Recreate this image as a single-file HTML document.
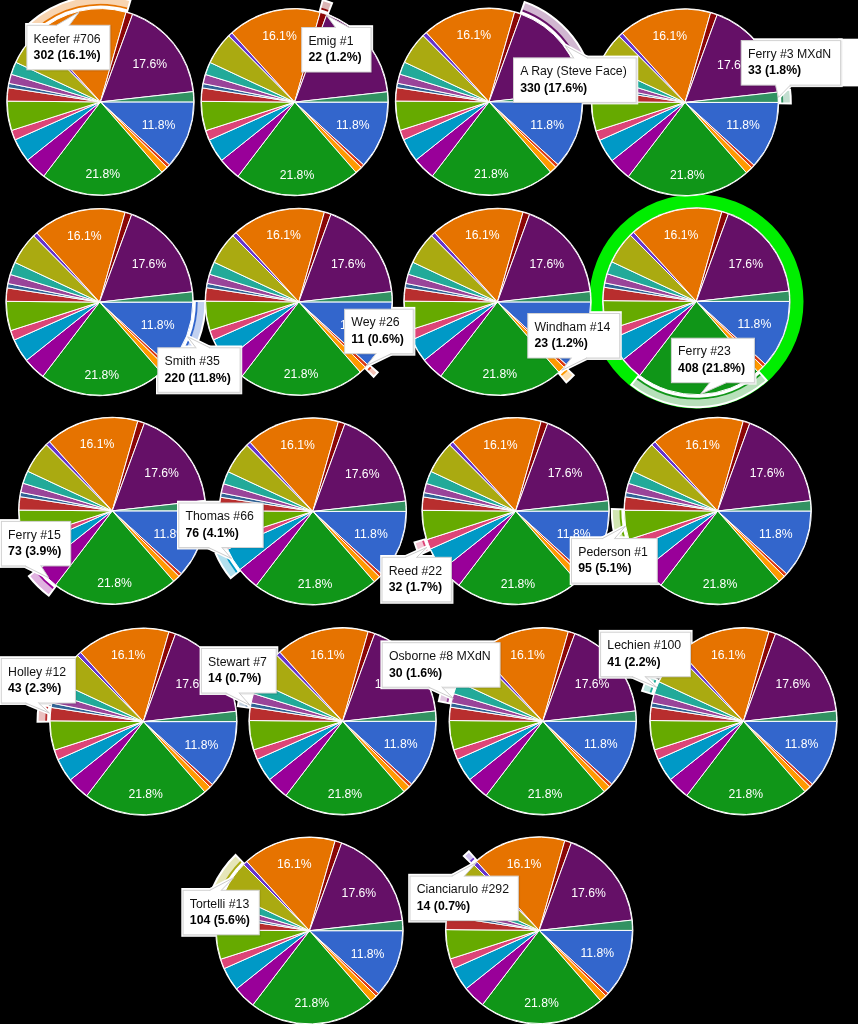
<!DOCTYPE html><html><head><meta charset="utf-8"><title>Pie charts</title><style>html,body{margin:0;padding:0;background:#000}svg{display:block;will-change:transform}text{font-family:"Liberation Sans",sans-serif}</style></head><body>
<svg width="858" height="1024" viewBox="0 0 858 1024"><rect width="858" height="1024" fill="#000"/><defs><g id="pie"><circle r="94.2" fill="#fff"/><g stroke="#fff" stroke-width="1" stroke-linejoin="round"><path d="M0,0L93.25,0A93.25,93.25,0,0,1,68.94,62.79Z" fill="#3366cc"/><path d="M0,0L68.94,62.79A93.25,93.25,0,0,1,66.57,65.3Z" fill="#dc3912"/><path d="M0,0L66.57,65.3A93.25,93.25,0,0,1,61.33,70.24Z" fill="#ff9900"/><path d="M0,0L61.33,70.24A93.25,93.25,0,0,1,-56.61,74.1Z" fill="#109618"/><path d="M0,0L-56.61,74.1A93.25,93.25,0,0,1,-72.9,58.15Z" fill="#990099"/><path d="M0,0L-72.9,58.15A93.25,93.25,0,0,1,-85.22,37.86Z" fill="#0099c6"/><path d="M0,0L-85.22,37.86A93.25,93.25,0,0,1,-88.79,28.5Z" fill="#dd4477"/><path d="M0,0L-88.79,28.5A93.25,93.25,0,0,1,-93.25,-0.78Z" fill="#66aa00"/><path d="M0,0L-93.25,-0.78A93.25,93.25,0,0,1,-92.16,-14.19Z" fill="#b82e2e"/><path d="M0,0L-92.16,-14.19A93.25,93.25,0,0,1,-91.39,-18.51Z" fill="#316395"/><path d="M0,0L-91.39,-18.51A93.25,93.25,0,0,1,-89.07,-27.61Z" fill="#994499"/><path d="M0,0L-89.07,-27.61A93.25,93.25,0,0,1,-84.44,-39.57Z" fill="#22aa99"/><path d="M0,0L-84.44,-39.57A93.25,93.25,0,0,1,-65.8,-66.08Z" fill="#aaaa11"/><path d="M0,0L-65.8,-66.08A93.25,93.25,0,0,1,-62.62,-69.1Z" fill="#6633cc"/><path d="M0,0L-62.62,-69.1A93.25,93.25,0,0,1,25.58,-89.67Z" fill="#e67300"/><path d="M0,0L25.58,-89.67A93.25,93.25,0,0,1,32.13,-87.54Z" fill="#8b0707"/><path d="M0,0L32.13,-87.54A93.25,93.25,0,0,1,92.68,-10.31Z" fill="#651067"/><path d="M0,0L92.68,-10.31A93.25,93.25,0,0,1,93.25,-0Z" fill="#329262"/></g><g fill="#fff" font-size="12.2"><text x="49.4" y="-33.7" text-anchor="middle">17.6%</text><text x="58.1" y="27.0" text-anchor="middle">11.8%</text><text x="2.3" y="76.60000000000001" text-anchor="middle">21.8%</text><text x="-15.2" y="-62.50000000000001" text-anchor="middle">16.1%</text></g></g></defs>
<circle cx="696.3" cy="301.4" r="100.6" fill="none" stroke="#00ee00" stroke-width="13.2"/>
<path d="M27.22,24.09A106.85,106.85,0,0,1,131.68,-0.28L127.42,13.68A92.25,92.25,0,0,0,37.23,34.72Z" fill="#fff"/><path d="M30.04,24.21A104.85,104.85,0,0,1,129.21,1.07L127.35,7.61A98.05,98.05,0,0,0,34.61,29.25Z" fill="#f8d5b2"/><path d="M35.14,29.84A97.25,97.25,0,0,1,127.13,8.38" fill="none" stroke="#e67300" stroke-width="1.9"/>
<path d="M322.03,-1.18A106.85,106.85,0,0,1,333.34,2.5L328.06,16.11A92.25,92.25,0,0,0,318.29,12.93Z" fill="#fff"/><path d="M323.41,1.27A104.85,104.85,0,0,1,330.78,3.67L328.43,10.05A98.05,98.05,0,0,0,321.55,7.81Z" fill="#dcb5b5"/><path d="M321.33,8.58A97.25,97.25,0,0,1,328.16,10.81" fill="none" stroke="#8b0707" stroke-width="1.9"/>
<path d="M523.98,0.82A106.85,106.85,0,0,1,595.45,91.98L580.91,93.32A92.25,92.25,0,0,0,519.21,14.62Z" fill="#fff"/><path d="M525.18,3.37A104.85,104.85,0,0,1,593.26,90.2L586.5,90.96A98.05,98.05,0,0,0,522.83,9.75Z" fill="#d1b7d1"/><path d="M522.56,10.51A97.25,97.25,0,0,1,585.7,91.04" fill="none" stroke="#651067" stroke-width="1.9"/>
<path d="M790.95,88.59A106.85,106.85,0,0,1,791.83,104.4L777.23,104.13A92.25,92.25,0,0,0,776.48,90.48Z" fill="#fff"/><path d="M789.21,90.8A104.85,104.85,0,0,1,789.85,102.4L783.05,102.4A98.05,98.05,0,0,0,782.45,91.56Z" fill="#c2ded0"/><path d="M781.65,91.64A97.25,97.25,0,0,1,782.25,102.4" fill="none" stroke="#329262" stroke-width="1.9"/>
<path d="M206.38,300.1A106.85,106.85,0,0,1,177.18,375.52L166.57,365.49A92.25,92.25,0,0,0,191.78,300.37Z" fill="#fff"/><path d="M204.4,302.1A104.85,104.85,0,0,1,177.06,372.71L172.04,368.13A98.05,98.05,0,0,0,197.6,302.1Z" fill="#c2d1f0"/><path d="M196.8,302.1A97.25,97.25,0,0,1,171.44,367.59" fill="none" stroke="#3366cc" stroke-width="1.9"/>
<path d="M379.13,372.36A106.85,106.85,0,0,1,373.66,378.14L363.43,367.72A92.25,92.25,0,0,0,368.15,362.73Z" fill="#fff"/><path d="M376.31,372.51A104.85,104.85,0,0,1,373.65,375.32L368.8,370.56A98.05,98.05,0,0,0,371.29,367.93Z" fill="#f4c4b8"/><path d="M370.69,367.39A97.25,97.25,0,0,1,368.23,370" fill="none" stroke="#dc3912" stroke-width="1.9"/>
<path d="M575.12,375.28A106.85,106.85,0,0,1,566.21,383.69L556.81,372.51A92.25,92.25,0,0,0,564.51,365.25Z" fill="#fff"/><path d="M572.3,375.32A104.85,104.85,0,0,1,566.41,380.88L561.94,375.76A98.05,98.05,0,0,0,567.45,370.56Z" fill="#ffe0b2"/><path d="M566.88,370A97.25,97.25,0,0,1,561.42,375.15" fill="none" stroke="#ff9900" stroke-width="1.9"/>
<path d="M768.08,380.55A106.85,106.85,0,0,1,629.86,385.08L638.93,373.64A92.25,92.25,0,0,0,758.27,369.74Z" fill="#fff"/><path d="M765.26,380.38A104.85,104.85,0,0,1,632.65,384.72L636.78,379.32A98.05,98.05,0,0,0,760.79,375.26Z" fill="#b7e0ba"/><path d="M760.27,374.65A97.25,97.25,0,0,1,637.27,378.68" fill="none" stroke="#109618" stroke-width="1.9"/>
<path d="M48.99,596.96A106.85,106.85,0,0,1,27.48,575.9L39.07,567.01A92.25,92.25,0,0,0,57.64,585.2Z" fill="#fff"/><path d="M48.6,594.17A104.85,104.85,0,0,1,30.28,576.23L35.6,571.99A98.05,98.05,0,0,0,52.73,588.77Z" fill="#e0b2e0"/><path d="M53.22,588.13A97.25,97.25,0,0,1,36.22,571.49" fill="none" stroke="#990099" stroke-width="1.9"/>
<path d="M230.53,579.59A106.85,106.85,0,0,1,214.36,552.94L227.81,547.27A92.25,92.25,0,0,0,241.78,570.27Z" fill="#fff"/><path d="M230.83,576.78A104.85,104.85,0,0,1,216.98,553.97L223.2,551.21A98.05,98.05,0,0,0,236.15,572.54Z" fill="#b2e0ee"/><path d="M236.77,572.04A97.25,97.25,0,0,1,223.93,550.89" fill="none" stroke="#0099c6" stroke-width="1.9"/>
<path d="M418.78,556.31A106.85,106.85,0,0,1,413.27,541.85L427.25,537.64A92.25,92.25,0,0,0,432.01,550.13Z" fill="#fff"/><path d="M419.78,553.67A104.85,104.85,0,0,1,415.77,543.15L422.24,541.07A98.05,98.05,0,0,0,426,550.91Z" fill="#f5c7d6"/><path d="M426.73,550.59A97.25,97.25,0,0,1,423,540.83" fill="none" stroke="#dd4477" stroke-width="1.9"/>
<path d="M616.54,545.56A106.85,106.85,0,0,1,610.84,508.1L625.43,508.49A92.25,92.25,0,0,0,630.36,540.84Z" fill="#fff"/><path d="M617.82,543.05A104.85,104.85,0,0,1,612.8,510.12L619.6,510.18A98.05,98.05,0,0,0,624.29,540.97Z" fill="#d1e6b2"/><path d="M625.05,540.73A97.25,97.25,0,0,1,620.4,510.18" fill="none" stroke="#66aa00" stroke-width="1.9"/>
<path d="M36.51,722.71A106.85,106.85,0,0,1,38.07,703.36L52.45,705.85A92.25,92.25,0,0,0,51.1,722.56Z" fill="#fff"/><path d="M38.5,720.72A104.85,104.85,0,0,1,39.72,705.64L46.44,706.68A98.05,98.05,0,0,0,45.3,720.78Z" fill="#eac0c0"/><path d="M46.1,720.78A97.25,97.25,0,0,1,47.23,706.8" fill="none" stroke="#b82e2e" stroke-width="1.9"/>
<path d="M236.71,707.02A106.85,106.85,0,0,1,238.29,698.13L252.54,701.3A92.25,92.25,0,0,0,251.18,708.97Z" fill="#fff"/><path d="M238.97,705.34A104.85,104.85,0,0,1,239.84,700.49L246.5,701.84A98.05,98.05,0,0,0,245.69,706.38Z" fill="#c1d0df"/><path d="M246.48,706.5A97.25,97.25,0,0,1,247.28,702" fill="none" stroke="#316395" stroke-width="1.9"/>
<path d="M437.65,702.06A106.85,106.85,0,0,1,441.3,687.76L455.16,692.34A92.25,92.25,0,0,0,452.01,704.69Z" fill="#fff"/><path d="M439.99,700.49A104.85,104.85,0,0,1,442.6,690.26L449.1,692.27A98.05,98.05,0,0,0,446.65,701.84Z" fill="#e0c7e0"/><path d="M447.43,702A97.25,97.25,0,0,1,449.86,692.51" fill="none" stroke="#994499" stroke-width="1.9"/>
<path d="M640.81,691.59A106.85,106.85,0,0,1,647.57,674.15L660.67,680.59A92.25,92.25,0,0,0,654.84,695.65Z" fill="#fff"/><path d="M643.3,690.26A104.85,104.85,0,0,1,648.51,676.81L654.67,679.69A98.05,98.05,0,0,0,649.8,692.27Z" fill="#bde6e0"/><path d="M650.56,692.51A97.25,97.25,0,0,1,655.39,680.03" fill="none" stroke="#22aa99" stroke-width="1.9"/>
<path d="M211.91,887.18A106.85,106.85,0,0,1,235.54,853.59L245.64,864.12A92.25,92.25,0,0,0,225.25,893.13Z" fill="#fff"/><path d="M214.56,886.21A104.85,104.85,0,0,1,235.52,856.4L240.31,861.22A98.05,98.05,0,0,0,220.72,889.09Z" fill="#e6e6b8"/><path d="M221.44,889.43A97.25,97.25,0,0,1,240.88,861.79" fill="none" stroke="#aaaa11" stroke-width="1.9"/>
<path d="M462.4,856.12A106.85,106.85,0,0,1,468.94,849.9L478.54,860.9A92.25,92.25,0,0,0,472.89,866.27Z" fill="#fff"/><path d="M465.22,856.1A104.85,104.85,0,0,1,468.79,852.71L473.36,857.75A98.05,98.05,0,0,0,470.01,860.92Z" fill="#d1c2f0"/><path d="M470.58,861.49A97.25,97.25,0,0,1,473.89,858.34" fill="none" stroke="#6633cc" stroke-width="1.9"/>
<use href="#pie" x="100.45" y="101.9"/>
<use href="#pie" x="294.65" y="102.1"/>
<use href="#pie" x="489.05" y="101.8"/>
<use href="#pie" x="685.0" y="102.4"/>
<use href="#pie" x="99.55" y="302.1"/>
<use href="#pie" x="298.8" y="301.9"/>
<use href="#pie" x="497.45" y="301.9"/>
<use href="#pie" x="696.3" y="301.4"/>
<use href="#pie" x="112.25" y="510.85"/>
<use href="#pie" x="312.8" y="511.4"/>
<use href="#pie" x="515.6" y="511.1"/>
<use href="#pie" x="717.65" y="511.0"/>
<use href="#pie" x="143.35" y="721.6"/>
<use href="#pie" x="342.6" y="721.3"/>
<use href="#pie" x="542.75" y="721.3"/>
<use href="#pie" x="743.45" y="721.3"/>
<use href="#pie" x="309.5" y="930.7"/>
<use href="#pie" x="539.2" y="930.4"/>
<rect x="838" y="38.7" width="20" height="47.7" fill="#fff"/>
<clipPath id="c0"><path clip-rule="evenodd" d="M0,0H858V1024H0ZM7,101.9a93.45,93.45,0,1,0,186.9,0a93.45,93.45,0,1,0,-186.9,0Z"/></clipPath><g clip-path="url(#c0)"><rect x="25.1" y="23" width="86.92" height="48.8" fill="#fff"/><polygon points="56.3,25.3 78.9,12.2 69.3,25.3" fill="#fff" stroke="#fff" stroke-width="4" stroke-linejoin="round"/></g><rect x="27.7" y="26.2" width="83.02" height="44.5" fill="none" stroke="#000" stroke-opacity="0.07" stroke-width="2"/><rect x="26.9" y="25.3" width="83.02" height="44.5" fill="#fff" stroke="#d2d2d2" stroke-width="1"/><polygon points="56.9,25.3 57.2,26.5 68.4,26.5 68.7,25.3 78.9,12.2" fill="#fff"/><polygon points="56.3,25.3 78.9,12.2 69.3,25.3" fill="#fff"/><polyline points="56.3,25.3 78.9,12.2 69.3,25.3" fill="none" stroke="#ccc" stroke-width="1"/><text x="33.6" y="42.5" font-size="12.3" fill="#111">Keefer #706</text><text x="33.6" y="59.1" font-size="12.3" font-weight="bold" fill="#000">302 (16.1%)</text>
<clipPath id="c1"><path clip-rule="evenodd" d="M0,0H858V1024H0ZM201.2,102.1a93.45,93.45,0,1,0,186.9,0a93.45,93.45,0,1,0,-186.9,0Z"/></clipPath><g clip-path="url(#c1)"><rect x="299.9" y="25.2" width="73.23" height="48.8" fill="#fff"/><polygon points="335.5,27.5 326.3,15.1 349,27.5" fill="#fff" stroke="#fff" stroke-width="4" stroke-linejoin="round"/></g><rect x="302.5" y="28.4" width="69.33" height="44.5" fill="none" stroke="#000" stroke-opacity="0.07" stroke-width="2"/><rect x="301.7" y="27.5" width="69.33" height="44.5" fill="#fff" stroke="#d2d2d2" stroke-width="1"/><polygon points="336.1,27.5 336.4,28.7 348.1,28.7 348.4,27.5 326.3,15.1" fill="#fff"/><polygon points="335.5,27.5 326.3,15.1 349,27.5" fill="#fff"/><polyline points="335.5,27.5 326.3,15.1 349,27.5" fill="none" stroke="#ccc" stroke-width="1"/><text x="308.4" y="44.7" font-size="12.3" fill="#111">Emig #1</text><text x="308.4" y="61.3" font-size="12.3" font-weight="bold" fill="#000">22 (1.2%)</text>
<clipPath id="c2"><path clip-rule="evenodd" d="M0,0H858V1024H0ZM395.6,101.8a93.45,93.45,0,1,0,186.9,0a93.45,93.45,0,1,0,-186.9,0Z"/></clipPath><g clip-path="url(#c2)"><rect x="511.7" y="55.6" width="126.54" height="48.8" fill="#fff"/><polygon points="573.7,57.9 565.3,45.7 587.7,57.9" fill="#fff" stroke="#fff" stroke-width="4" stroke-linejoin="round"/></g><rect x="514.3" y="58.8" width="122.64" height="44.5" fill="none" stroke="#000" stroke-opacity="0.07" stroke-width="2"/><rect x="513.5" y="57.9" width="122.64" height="44.5" fill="#fff" stroke="#d2d2d2" stroke-width="1"/><polygon points="574.3,57.9 574.6,59.1 586.8,59.1 587.1,57.9 565.3,45.7" fill="#fff"/><polygon points="573.7,57.9 565.3,45.7 587.7,57.9" fill="#fff"/><polyline points="573.7,57.9 565.3,45.7 587.7,57.9" fill="none" stroke="#ccc" stroke-width="1"/><text x="520.2" y="75.1" font-size="12.3" fill="#111">A Ray (Steve Face)</text><text x="520.2" y="91.7" font-size="12.3" font-weight="bold" fill="#000">330 (17.6%)</text>
<clipPath id="c3"><path clip-rule="evenodd" d="M0,0H858V1024H0ZM591.55,102.4a93.45,93.45,0,1,0,186.9,0a93.45,93.45,0,1,0,-186.9,0Z"/></clipPath><g clip-path="url(#c3)"><rect x="739.4" y="38.3" width="103.29" height="48.8" fill="#fff"/><polygon points="775.5,85.1 778.5,97.3 790.4,85.1" fill="#fff" stroke="#fff" stroke-width="4" stroke-linejoin="round"/></g><rect x="742" y="41.5" width="99.39" height="44.5" fill="none" stroke="#000" stroke-opacity="0.07" stroke-width="2"/><rect x="741.2" y="40.6" width="99.39" height="44.5" fill="#fff" stroke="#d2d2d2" stroke-width="1"/><polygon points="776.1,85.1 776.4,83.9 789.5,83.9 789.8,85.1 778.5,97.3" fill="#fff"/><polygon points="775.5,85.1 778.5,97.3 790.4,85.1" fill="#fff"/><polyline points="775.5,85.1 778.5,97.3 790.4,85.1" fill="none" stroke="#ccc" stroke-width="1"/><text x="747.9" y="57.8" font-size="12.3" fill="#111">Ferry #3 MXdN</text><text x="747.9" y="74.4" font-size="12.3" font-weight="bold" fill="#000">33 (1.8%)</text>
<clipPath id="c4"><path clip-rule="evenodd" d="M0,0H858V1024H0ZM6.1,302.1a93.45,93.45,0,1,0,186.9,0a93.45,93.45,0,1,0,-186.9,0Z"/></clipPath><g clip-path="url(#c4)"><rect x="156" y="345.5" width="86.23" height="48.8" fill="#fff"/><polygon points="196,347.8 187.6,336.8 210,347.8" fill="#fff" stroke="#fff" stroke-width="4" stroke-linejoin="round"/></g><rect x="158.6" y="348.7" width="82.33" height="44.5" fill="none" stroke="#000" stroke-opacity="0.07" stroke-width="2"/><rect x="157.8" y="347.8" width="82.33" height="44.5" fill="#fff" stroke="#d2d2d2" stroke-width="1"/><polygon points="196.6,347.8 196.9,349 209.1,349 209.4,347.8 187.6,336.8" fill="#fff"/><polygon points="196,347.8 187.6,336.8 210,347.8" fill="#fff"/><polyline points="196,347.8 187.6,336.8 210,347.8" fill="none" stroke="#ccc" stroke-width="1"/><text x="164.5" y="365" font-size="12.3" fill="#111">Smith #35</text><text x="164.5" y="381.6" font-size="12.3" font-weight="bold" fill="#000">220 (11.8%)</text>
<clipPath id="c5"><path clip-rule="evenodd" d="M0,0H858V1024H0ZM205.35,301.9a93.45,93.45,0,1,0,186.9,0a93.45,93.45,0,1,0,-186.9,0Z"/></clipPath><g clip-path="url(#c5)"><rect x="342.8" y="306.9" width="72.55" height="48.8" fill="#fff"/><polygon points="376,353.7 366.4,365.6 391.2,353.7" fill="#fff" stroke="#fff" stroke-width="4" stroke-linejoin="round"/></g><rect x="345.4" y="310.1" width="68.65" height="44.5" fill="none" stroke="#000" stroke-opacity="0.07" stroke-width="2"/><rect x="344.6" y="309.2" width="68.65" height="44.5" fill="#fff" stroke="#d2d2d2" stroke-width="1"/><polygon points="376.6,353.7 376.9,352.5 390.3,352.5 390.6,353.7 366.4,365.6" fill="#fff"/><polygon points="376,353.7 366.4,365.6 391.2,353.7" fill="#fff"/><polyline points="376,353.7 366.4,365.6 391.2,353.7" fill="none" stroke="#ccc" stroke-width="1"/><text x="351.3" y="326.4" font-size="12.3" fill="#111">Wey #26</text><text x="351.3" y="343" font-size="12.3" font-weight="bold" fill="#000">11 (0.6%)</text>
<clipPath id="c6"><path clip-rule="evenodd" d="M0,0H858V1024H0ZM404,301.9a93.45,93.45,0,1,0,186.9,0a93.45,93.45,0,1,0,-186.9,0Z"/></clipPath><g clip-path="url(#c6)"><rect x="526" y="311.2" width="95.79" height="48.8" fill="#fff"/><polygon points="571.4,358 561.8,370.3 586.8,358" fill="#fff" stroke="#fff" stroke-width="4" stroke-linejoin="round"/></g><rect x="528.6" y="314.4" width="91.89" height="44.5" fill="none" stroke="#000" stroke-opacity="0.07" stroke-width="2"/><rect x="527.8" y="313.5" width="91.89" height="44.5" fill="#fff" stroke="#d2d2d2" stroke-width="1"/><polygon points="572,358 572.3,356.8 585.9,356.8 586.2,358 561.8,370.3" fill="#fff"/><polygon points="571.4,358 561.8,370.3 586.8,358" fill="#fff"/><polyline points="571.4,358 561.8,370.3 586.8,358" fill="none" stroke="#ccc" stroke-width="1"/><text x="534.5" y="330.7" font-size="12.3" fill="#111">Windham #14</text><text x="534.5" y="347.3" font-size="12.3" font-weight="bold" fill="#000">23 (1.2%)</text>
<clipPath id="c7"><path clip-rule="evenodd" d="M0,0H858V1024H0ZM602.85,301.4a93.45,93.45,0,1,0,186.9,0a93.45,93.45,0,1,0,-186.9,0Z"/></clipPath><g clip-path="url(#c7)"><rect x="669.6" y="335.9" width="86.91" height="48.8" fill="#fff"/><polygon points="709.6,382.7 700.6,394.1 726.3,382.7" fill="#fff" stroke="#fff" stroke-width="4" stroke-linejoin="round"/></g><rect x="672.2" y="339.1" width="83.01" height="44.5" fill="none" stroke="#000" stroke-opacity="0.07" stroke-width="2"/><rect x="671.4" y="338.2" width="83.01" height="44.5" fill="#fff" stroke="#d2d2d2" stroke-width="1"/><polygon points="710.2,382.7 710.5,381.5 725.4,381.5 725.7,382.7 700.6,394.1" fill="#fff"/><polygon points="709.6,382.7 700.6,394.1 726.3,382.7" fill="#fff"/><polyline points="709.6,382.7 700.6,394.1 726.3,382.7" fill="none" stroke="#ccc" stroke-width="1"/><text x="678.1" y="355.4" font-size="12.3" fill="#111">Ferry #23</text><text x="678.1" y="372" font-size="12.3" font-weight="bold" fill="#000">408 (21.8%)</text>
<clipPath id="c8"><path clip-rule="evenodd" d="M0,0H858V1024H0ZM18.8,510.85a93.45,93.45,0,1,0,186.9,0a93.45,93.45,0,1,0,-186.9,0Z"/></clipPath><g clip-path="url(#c8)"><rect x="-0.4" y="519.1" width="73.23" height="48.8" fill="#fff"/><polygon points="25,565.9 48.7,577.8 41,565.9" fill="#fff" stroke="#fff" stroke-width="4" stroke-linejoin="round"/></g><rect x="2.2" y="522.3" width="69.33" height="44.5" fill="none" stroke="#000" stroke-opacity="0.07" stroke-width="2"/><rect x="1.4" y="521.4" width="69.33" height="44.5" fill="#fff" stroke="#d2d2d2" stroke-width="1"/><polygon points="25.6,565.9 25.9,564.7 40.1,564.7 40.4,565.9 48.7,577.8" fill="#fff"/><polygon points="25,565.9 48.7,577.8 41,565.9" fill="#fff"/><polyline points="25,565.9 48.7,577.8 41,565.9" fill="none" stroke="#ccc" stroke-width="1"/><text x="8.1" y="538.6" font-size="12.3" fill="#111">Ferry #15</text><text x="8.1" y="555.2" font-size="12.3" font-weight="bold" fill="#000">73 (3.9%)</text>
<clipPath id="c9"><path clip-rule="evenodd" d="M0,0H858V1024H0ZM219.35,511.4a93.45,93.45,0,1,0,186.9,0a93.45,93.45,0,1,0,-186.9,0Z"/></clipPath><g clip-path="url(#c9)"><rect x="177" y="500.7" width="88.27" height="48.8" fill="#fff"/><polygon points="208.5,547.5 231.5,558.5 221.9,547.5" fill="#fff" stroke="#fff" stroke-width="4" stroke-linejoin="round"/></g><rect x="179.6" y="503.9" width="84.37" height="44.5" fill="none" stroke="#000" stroke-opacity="0.07" stroke-width="2"/><rect x="178.8" y="503" width="84.37" height="44.5" fill="#fff" stroke="#d2d2d2" stroke-width="1"/><polygon points="209.1,547.5 209.4,546.3 221,546.3 221.3,547.5 231.5,558.5" fill="#fff"/><polygon points="208.5,547.5 231.5,558.5 221.9,547.5" fill="#fff"/><polyline points="208.5,547.5 231.5,558.5 221.9,547.5" fill="none" stroke="#ccc" stroke-width="1"/><text x="185.5" y="520.2" font-size="12.3" fill="#111">Thomas #66</text><text x="185.5" y="536.8" font-size="12.3" font-weight="bold" fill="#000">76 (4.1%)</text>
<clipPath id="c10"><path clip-rule="evenodd" d="M0,0H858V1024H0ZM422.15,511.1a93.45,93.45,0,1,0,186.9,0a93.45,93.45,0,1,0,-186.9,0Z"/></clipPath><g clip-path="url(#c10)"><rect x="380.2" y="555" width="73.24" height="48.8" fill="#fff"/><polygon points="405,557.3 426.9,547.4 416.7,557.3" fill="#fff" stroke="#fff" stroke-width="4" stroke-linejoin="round"/></g><rect x="382.8" y="558.2" width="69.34" height="44.5" fill="none" stroke="#000" stroke-opacity="0.07" stroke-width="2"/><rect x="382" y="557.3" width="69.34" height="44.5" fill="#fff" stroke="#d2d2d2" stroke-width="1"/><polygon points="405.6,557.3 405.9,558.5 415.8,558.5 416.1,557.3 426.9,547.4" fill="#fff"/><polygon points="405,557.3 426.9,547.4 416.7,557.3" fill="#fff"/><polyline points="405,557.3 426.9,547.4 416.7,557.3" fill="none" stroke="#ccc" stroke-width="1"/><text x="388.7" y="574.5" font-size="12.3" fill="#111">Reed #22</text><text x="388.7" y="591.1" font-size="12.3" font-weight="bold" fill="#000">32 (1.7%)</text>
<clipPath id="c11"><path clip-rule="evenodd" d="M0,0H858V1024H0ZM624.2,511a93.45,93.45,0,1,0,186.9,0a93.45,93.45,0,1,0,-186.9,0Z"/></clipPath><g clip-path="url(#c11)"><rect x="569.7" y="536.3" width="89.65" height="48.8" fill="#fff"/><polygon points="602.3,538.6 625.4,526.2 614.5,538.6" fill="#fff" stroke="#fff" stroke-width="4" stroke-linejoin="round"/></g><rect x="572.3" y="539.5" width="85.75" height="44.5" fill="none" stroke="#000" stroke-opacity="0.07" stroke-width="2"/><rect x="571.5" y="538.6" width="85.75" height="44.5" fill="#fff" stroke="#d2d2d2" stroke-width="1"/><polygon points="602.9,538.6 603.2,539.8 613.6,539.8 613.9,538.6 625.4,526.2" fill="#fff"/><polygon points="602.3,538.6 625.4,526.2 614.5,538.6" fill="#fff"/><polyline points="602.3,538.6 625.4,526.2 614.5,538.6" fill="none" stroke="#ccc" stroke-width="1"/><text x="578.2" y="555.8" font-size="12.3" fill="#111">Pederson #1</text><text x="578.2" y="572.4" font-size="12.3" font-weight="bold" fill="#000">95 (5.1%)</text>
<clipPath id="c12"><path clip-rule="evenodd" d="M0,0H858V1024H0ZM49.9,721.6a93.45,93.45,0,1,0,186.9,0a93.45,93.45,0,1,0,-186.9,0Z"/></clipPath><g clip-path="url(#c12)"><rect x="-0.5" y="656.2" width="78.02" height="48.8" fill="#fff"/><polygon points="25.6,703 49.4,713 38.5,703" fill="#fff" stroke="#fff" stroke-width="4" stroke-linejoin="round"/></g><rect x="2.1" y="659.4" width="74.12" height="44.5" fill="none" stroke="#000" stroke-opacity="0.07" stroke-width="2"/><rect x="1.3" y="658.5" width="74.12" height="44.5" fill="#fff" stroke="#d2d2d2" stroke-width="1"/><polygon points="26.2,703 26.5,701.8 37.6,701.8 37.9,703 49.4,713" fill="#fff"/><polygon points="25.6,703 49.4,713 38.5,703" fill="#fff"/><polyline points="25.6,703 49.4,713 38.5,703" fill="none" stroke="#ccc" stroke-width="1"/><text x="8" y="675.7" font-size="12.3" fill="#111">Holley #12</text><text x="8" y="692.3" font-size="12.3" font-weight="bold" fill="#000">43 (2.3%)</text>
<clipPath id="c13"><path clip-rule="evenodd" d="M0,0H858V1024H0ZM249.15,721.3a93.45,93.45,0,1,0,186.9,0a93.45,93.45,0,1,0,-186.9,0Z"/></clipPath><g clip-path="url(#c13)"><rect x="199.6" y="646.2" width="78.7" height="48.8" fill="#fff"/><polygon points="225.8,693 250.1,705.3 239.2,693" fill="#fff" stroke="#fff" stroke-width="4" stroke-linejoin="round"/><polygon points="239.2,692.5 250.1,705.3 254.5,692.5" fill="#fff"/></g><rect x="202.2" y="649.4" width="74.8" height="44.5" fill="none" stroke="#000" stroke-opacity="0.07" stroke-width="2"/><rect x="201.4" y="648.5" width="74.8" height="44.5" fill="#fff" stroke="#d2d2d2" stroke-width="1"/><polygon points="226.4,693 226.7,691.8 238.3,691.8 238.6,693 250.1,705.3" fill="#fff"/><polygon points="225.8,693 250.1,705.3 239.2,693" fill="#fff"/><polyline points="225.8,693 250.1,705.3 239.2,693" fill="none" stroke="#ccc" stroke-width="1"/><text x="208.1" y="665.7" font-size="12.3" fill="#111">Stewart #7</text><text x="208.1" y="682.3" font-size="12.3" font-weight="bold" fill="#000">14 (0.7%)</text>
<clipPath id="c14"><path clip-rule="evenodd" d="M0,0H858V1024H0ZM449.3,721.3a93.45,93.45,0,1,0,186.9,0a93.45,93.45,0,1,0,-186.9,0Z"/></clipPath><g clip-path="url(#c14)"><rect x="380.4" y="640.4" width="121.77" height="48.8" fill="#fff"/><polygon points="428.8,687.2 453.3,698.5 441.9,687.2" fill="#fff" stroke="#fff" stroke-width="4" stroke-linejoin="round"/><polygon points="441.9,686.8 453.3,698.5 456.5,686.8" fill="#fff"/></g><rect x="383" y="643.6" width="117.87" height="44.5" fill="none" stroke="#000" stroke-opacity="0.07" stroke-width="2"/><rect x="382.2" y="642.7" width="117.87" height="44.5" fill="#fff" stroke="#d2d2d2" stroke-width="1"/><polygon points="429.4,687.2 429.7,686 441,686 441.3,687.2 453.3,698.5" fill="#fff"/><polygon points="428.8,687.2 453.3,698.5 441.9,687.2" fill="#fff"/><polyline points="428.8,687.2 453.3,698.5 441.9,687.2" fill="none" stroke="#ccc" stroke-width="1"/><text x="388.9" y="659.9" font-size="12.3" fill="#111">Osborne #8 MXdN</text><text x="388.9" y="676.5" font-size="12.3" font-weight="bold" fill="#000">30 (1.6%)</text>
<clipPath id="c15"><path clip-rule="evenodd" d="M0,0H858V1024H0ZM650,721.3a93.45,93.45,0,1,0,186.9,0a93.45,93.45,0,1,0,-186.9,0Z"/></clipPath><g clip-path="url(#c15)"><rect x="598.8" y="629.9" width="93.77" height="48.8" fill="#fff"/><polygon points="632.3,676.7 656.7,687.3 645.1,676.7" fill="#fff" stroke="#fff" stroke-width="4" stroke-linejoin="round"/></g><rect x="601.4" y="633.1" width="89.87" height="44.5" fill="none" stroke="#000" stroke-opacity="0.07" stroke-width="2"/><rect x="600.6" y="632.2" width="89.87" height="44.5" fill="#fff" stroke="#d2d2d2" stroke-width="1"/><polygon points="632.9,676.7 633.2,675.5 644.2,675.5 644.5,676.7 656.7,687.3" fill="#fff"/><polygon points="632.3,676.7 656.7,687.3 645.1,676.7" fill="#fff"/><polyline points="632.3,676.7 656.7,687.3 645.1,676.7" fill="none" stroke="#ccc" stroke-width="1"/><text x="607.3" y="649.4" font-size="12.3" fill="#111">Lechien #100</text><text x="607.3" y="666" font-size="12.3" font-weight="bold" fill="#000">41 (2.2%)</text>
<clipPath id="c16"><path clip-rule="evenodd" d="M0,0H858V1024H0ZM216.05,930.7a93.45,93.45,0,1,0,186.9,0a93.45,93.45,0,1,0,-186.9,0Z"/></clipPath><g clip-path="url(#c16)"><rect x="181.3" y="888" width="80.07" height="48.8" fill="#fff"/><polygon points="209.7,890.3 233.5,877.8 221.3,890.3" fill="#fff" stroke="#fff" stroke-width="4" stroke-linejoin="round"/></g><rect x="183.9" y="891.2" width="76.17" height="44.5" fill="none" stroke="#000" stroke-opacity="0.07" stroke-width="2"/><rect x="183.1" y="890.3" width="76.17" height="44.5" fill="#fff" stroke="#d2d2d2" stroke-width="1"/><polygon points="210.3,890.3 210.6,891.5 220.4,891.5 220.7,890.3 233.5,877.8" fill="#fff"/><polygon points="209.7,890.3 233.5,877.8 221.3,890.3" fill="#fff"/><polyline points="209.7,890.3 233.5,877.8 221.3,890.3" fill="none" stroke="#ccc" stroke-width="1"/><text x="189.8" y="907.5" font-size="12.3" fill="#111">Tortelli #13</text><text x="189.8" y="924.1" font-size="12.3" font-weight="bold" fill="#000">104 (5.6%)</text>
<clipPath id="c17"><path clip-rule="evenodd" d="M0,0H858V1024H0ZM445.75,930.4a93.45,93.45,0,1,0,186.9,0a93.45,93.45,0,1,0,-186.9,0Z"/></clipPath><g clip-path="url(#c17)"><rect x="408.2" y="873.8" width="112.21" height="48.8" fill="#fff"/><polygon points="451.9,876.1 476.7,862.4 464.4,876.1" fill="#fff" stroke="#fff" stroke-width="4" stroke-linejoin="round"/></g><rect x="410.8" y="877" width="108.31" height="44.5" fill="none" stroke="#000" stroke-opacity="0.07" stroke-width="2"/><rect x="410" y="876.1" width="108.31" height="44.5" fill="#fff" stroke="#d2d2d2" stroke-width="1"/><polygon points="452.5,876.1 452.8,877.3 463.5,877.3 463.8,876.1 476.7,862.4" fill="#fff"/><polygon points="451.9,876.1 476.7,862.4 464.4,876.1" fill="#fff"/><polyline points="451.9,876.1 476.7,862.4 464.4,876.1" fill="none" stroke="#ccc" stroke-width="1"/><text x="416.7" y="893.3" font-size="12.3" fill="#111">Cianciarulo #292</text><text x="416.7" y="909.9" font-size="12.3" font-weight="bold" fill="#000">14 (0.7%)</text>
</svg></body></html>
